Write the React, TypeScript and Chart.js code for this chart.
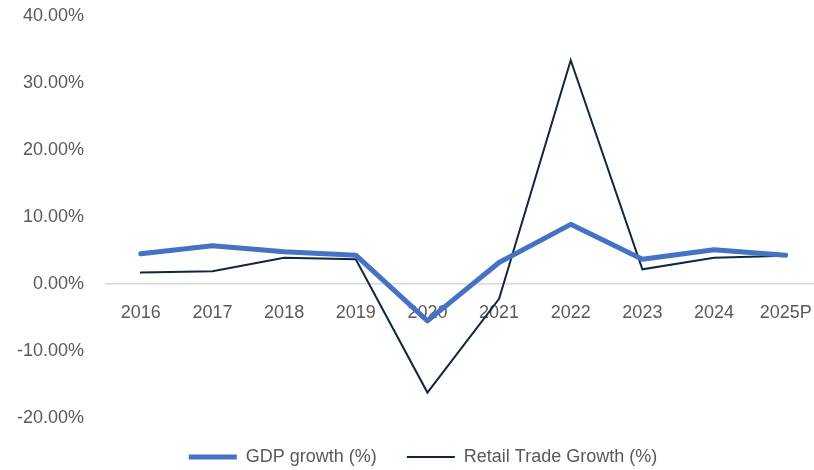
import React, { useEffect, useRef } from "react";
import { Chart, registerables } from "chart.js";

Chart.register(...registerables);

const years = ["2016", "2017", "2018", "2019", "2020", "2021", "2022", "2023", "2024", "2025P"];
const gdpGrowth = [4.5, 5.7, 4.8, 4.3, -5.5, 3.2, 8.9, 3.7, 5.1, 4.3];
const retailGrowth = [1.7, 1.9, 3.9, 3.7, -16.2, -2.2, 33.4, 2.2, 3.9, 4.2];
const yTicks = [-20, -10, 0, 10, 20, 30, 40];

const FONT = "'Liberation Sans', Arial, sans-serif";
const TEXT = "#595959";

const legendShift = {
  id: "legendShift",
  afterLayout(chart: any) {
    if (chart.legend) {
      chart.legend.left += 11;
      chart.legend.right += 11;
    }
  },
};

export default function App() {
  const ref = useRef<HTMLCanvasElement | null>(null);

  useEffect(() => {
    if (!ref.current) return;
    const chart = new Chart(ref.current, {
      type: "line",
      data: {
        labels: years,
        datasets: [
          {
            label: "GDP growth (%)",
            data: gdpGrowth,
            borderColor: "#4472C4",
            backgroundColor: "#4472C4",
            borderWidth: 5,
            pointRadius: 0,
            tension: 0,
            borderJoinStyle: "round",
            borderCapStyle: "round",
          },
          {
            label: "Retail Trade Growth (%)",
            data: retailGrowth,
            borderColor: "#0E2841",
            backgroundColor: "#0E2841",
            borderWidth: 2,
            pointRadius: 0,
            tension: 0,
            borderJoinStyle: "miter",
            borderCapStyle: "round",
          },
        ],
      },
      options: {
        responsive: false,
        animation: false,
        layout: { padding: { top: 16, right: 6, bottom: -6, left: 0 } },
        plugins: {
          tooltip: { enabled: false },
          legend: {
            position: "bottom",
            labels: {
              usePointStyle: true,
              pointStyle: "line",
              pointStyleWidth: 48,
              boxHeight: 18,
              padding: 30,
              color: TEXT,
              font: { family: FONT, size: 18 },
            },
          },
        },
        scales: {
          x: {
            position: { y: 0 } as any,
            offset: true,
            grid: { display: false, drawTicks: false, offset: true },
            border: { display: false },
            ticks: {
              color: TEXT,
              font: { family: FONT, size: 18 },
              padding: 18,
              maxRotation: 0,
              autoSkip: false,
            },
          },
          y: {
            min: -20,
            max: 40,
            afterBuildTicks: (scale: any) => {
              scale.ticks = yTicks.map((v) => ({ value: v }));
            },
            afterFit: (scale: any) => {
              scale.width = 105;
              scale.paddingTop = 0;
              scale.paddingBottom = 0;
            },
            grid: {
              drawTicks: false,
              color: (ctx: any) => (ctx.tick && ctx.tick.value === 0 ? "#D9D9D9" : "rgba(0,0,0,0)"),
              lineWidth: 1.5,
            },
            border: { display: false },
            ticks: {
              color: TEXT,
              font: { family: FONT, size: 18 },
              padding: 21,
              callback: (v: any) => Number(v).toFixed(2) + "%",
            },
          },
        },
      },
      plugins: [legendShift],
    });
    return () => chart.destroy();
  }, []);

  return (
    <div
      style={{
        position: "fixed",
        left: 0,
        top: 0,
        width: 814,
        height: 470,
        overflow: "hidden",
        background: "#fff",
      }}
    >
      <canvas ref={ref} width={830} height={470} style={{ display: "block" }} />
    </div>
  );
}
